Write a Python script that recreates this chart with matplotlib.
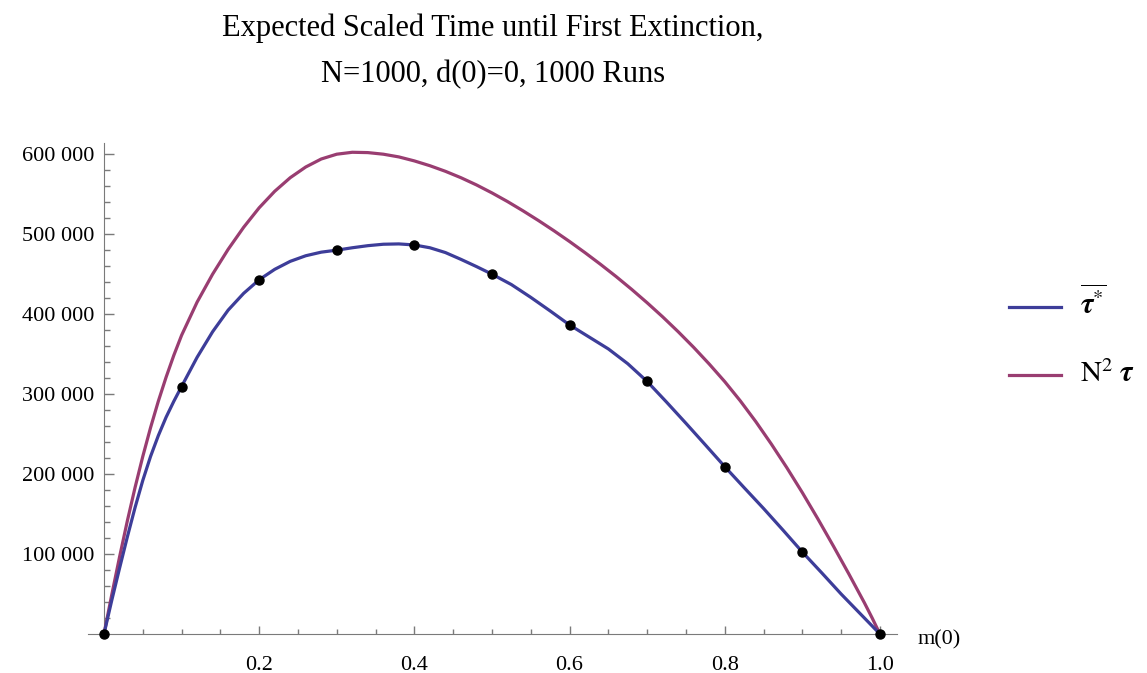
import matplotlib.pyplot as plt
from matplotlib.lines import Line2D

# simulation means at m(0) = 0, 0.1, ..., 1.0
m_runs = [0.0, 0.1, 0.2, 0.3, 0.4, 0.5, 0.6, 0.7, 0.8, 0.9, 1.0]
tau_runs = [0, 309500, 443000, 480000, 486500, 450000, 386500, 315800, 209300, 102500, 0]

# smooth curve drawn through the simulation means
m_sim = [0.0, 0.01, 0.02, 0.03, 0.04, 0.05, 0.06, 0.07, 0.08, 0.09, 0.1,
         0.12, 0.14, 0.16, 0.18, 0.2, 0.22, 0.24, 0.26, 0.28, 0.3,
         0.32, 0.34, 0.36, 0.38, 0.4, 0.42, 0.44, 0.46, 0.48, 0.5,
         0.525, 0.55, 0.575, 0.6, 0.625, 0.65, 0.675, 0.7, 0.725, 0.75,
         0.775, 0.8, 0.825, 0.85, 0.875, 0.9, 0.925, 0.95, 0.975, 1.0]
tau_sim = [0, 42000, 82000, 121000, 158000, 192000, 222000, 248000, 271000, 291000, 309500,
           346000, 378000, 405000, 426000, 443000, 456000, 466000, 473000, 477500, 480000,
           483000, 485600, 487400, 487800, 486500, 483000, 477000, 468500, 459500, 450000,
           437000, 421000, 404000, 386500, 371500, 356500, 338000, 315800, 290000, 263500,
           236500, 209300, 183000, 157000, 130000, 102500, 76500, 50000, 25000, 0]

# theoretical N^2 tau
m_th = [0.0, 0.01, 0.02, 0.03, 0.04, 0.05, 0.06, 0.07, 0.08, 0.09, 0.1,
        0.12, 0.14, 0.16, 0.18, 0.2, 0.22, 0.24, 0.26, 0.28, 0.3,
        0.32, 0.34, 0.36, 0.38, 0.4, 0.42, 0.44, 0.46, 0.48, 0.5,
        0.52, 0.54, 0.56, 0.58, 0.6, 0.62, 0.64, 0.66, 0.68, 0.7,
        0.72, 0.74, 0.76, 0.78, 0.8, 0.82, 0.84, 0.86, 0.88, 0.9,
        0.92, 0.94, 0.96, 0.98, 0.99, 1.0]
tau_th = [0, 49000, 96000, 141000, 183000, 222000, 258000, 291000, 321000, 348500, 373500,
          415000, 450000, 481000, 508600, 533000, 553600, 570600, 584000, 594000, 600000,
          602400, 602000, 600000, 596600, 591600, 585600, 578600, 570600, 561600, 551600,
          540800, 529200, 517000, 504200, 490800, 476800, 462200, 447000, 431000, 414200,
          396600, 378000, 358400, 337600, 315600, 291600, 265600, 237600, 208000, 176800,
          144000, 110000, 75000, 39000, 20000, 0]

x_ticks = [0.2, 0.4, 0.6, 0.8, 1.0]
y_ticks = [100000, 200000, 300000, 400000, 500000, 600000]

plt.rcParams['font.family'] = 'Liberation Serif'
plt.rcParams['mathtext.fontset'] = 'stix'

W, H = 1147, 673
blue = '#3d3d99'
purple = '#993d71'
grey = '#7a7a7a'

fig = plt.figure(figsize=(W / 100, H / 100), dpi=100)
ax = fig.add_axes([88 / W, (H - 634) / H, (897 - 88) / W, (634 - 143) / H])
ax.set_xlim(-0.0206, 1.022)
ax.set_ylim(0, 614000)

ax.plot(m_th, tau_th, color=purple, lw=2.3, clip_on=False, zorder=3)
ax.plot(m_sim, tau_sim, color=blue, lw=2.3, clip_on=False, zorder=4)
ax.plot(m_runs, tau_runs, 'o', color='black', ms=6.5, clip_on=False, zorder=5)

for s in ['top', 'right']:
    ax.spines[s].set_visible(False)
ax.spines['left'].set_position(('data', 0))
ax.spines['left'].set_color(grey)
ax.spines['bottom'].set_color(grey)

ax.set_xticks(x_ticks)
ax.set_xticklabels(['%.1f' % t for t in x_ticks])
ax.set_xticks([i * 0.05 for i in range(1, 20) if i % 4 != 0], minor=True)
ax.set_yticks(y_ticks)
ax.set_yticklabels(['%d 000' % (t // 1000) for t in y_ticks])
ax.set_yticks([i * 20000 for i in range(1, 31) if i % 5 != 0], minor=True)

ax.tick_params(axis='x', which='major', direction='in', length=6, width=1,
               color=grey, labelsize=16, pad=16)
ax.tick_params(axis='x', which='minor', direction='in', length=3.6, width=1, color=grey)
ax.tick_params(axis='y', which='major', direction='in', length=7, width=1,
               color=grey, labelsize=16, pad=7)
ax.tick_params(axis='y', which='minor', direction='in', length=4.5, width=1, color=grey)

fig.text(918 / W, (H - 640) / H, 'm(0)', fontsize=16, va='center', ha='left')

fig.text(493 / W, (H - 28) / H, 'Expected Scaled Time until First Extinction,',
         fontsize=22, ha='center', va='center')
fig.text(493 / W, (H - 75) / H, 'N=1000, d(0)=0, 1000 Runs',
         fontsize=22, ha='center', va='center')

# legend
fig.add_artist(Line2D([1009 / W, 1061 / W], [(H - 307) / H] * 2, color=blue, lw=2.3))
fig.add_artist(Line2D([1009 / W, 1061 / W], [(H - 375) / H] * 2, color=purple, lw=2.3))
fig.text(1080 / W, (H - 303) / H, r'$\overline{\boldsymbol{\tau}^{*}}$', fontsize=21,
         va='center', ha='left')
fig.text(1080 / W, (H - 374) / H, r'$\mathrm{N}^{2}\ \boldsymbol{\tau}$', fontsize=21,
         va='center', ha='left')

fig.savefig('out.png', dpi=100)
